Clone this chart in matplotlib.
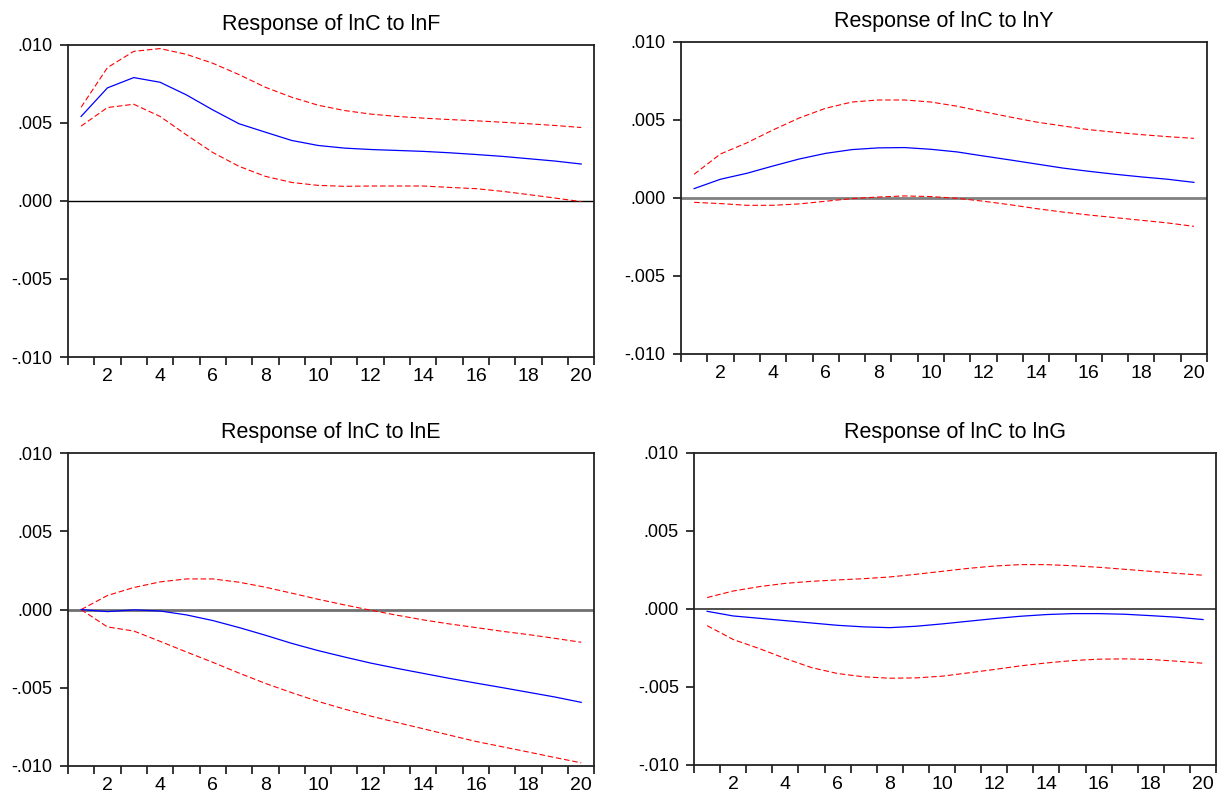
import numpy as np
import matplotlib.pyplot as plt
from matplotlib.ticker import FixedLocator, NullFormatter, FuncFormatter

plt.rcParams['font.family'] = ['Liberation Sans', 'DejaVu Sans']

periods = np.arange(1, 21)

# Response of lnC to lnF
f_mid = [5.42, 7.25, 7.91, 7.61, 6.80, 5.84, 4.95, 4.41, 3.88, 3.56,
         3.39, 3.30, 3.24, 3.18, 3.09, 2.98, 2.86, 2.71, 2.56, 2.37]
f_up = [6.01, 8.55, 9.59, 9.77, 9.40, 8.83, 8.10, 7.29, 6.65, 6.14,
        5.80, 5.57, 5.42, 5.31, 5.22, 5.14, 5.05, 4.95, 4.84, 4.71]
f_lo = [4.80, 5.99, 6.20, 5.42, 4.24, 3.11, 2.22, 1.58, 1.19, 1.00,
        0.94, 0.96, 0.96, 0.96, 0.87, 0.79, 0.62, 0.41, 0.19, -0.04]

# Response of lnC to lnY
y_mid = [0.60, 1.20, 1.58, 2.05, 2.50, 2.86, 3.10, 3.21, 3.23, 3.12,
         2.95, 2.69, 2.44, 2.18, 1.92, 1.71, 1.52, 1.35, 1.20, 1.00]
y_up = [1.52, 2.82, 3.53, 4.36, 5.13, 5.75, 6.15, 6.28, 6.28, 6.15,
        5.88, 5.53, 5.19, 4.87, 4.62, 4.38, 4.21, 4.06, 3.93, 3.82]
y_lo = [-0.28, -0.36, -0.47, -0.47, -0.38, -0.21, -0.04, 0.06, 0.13, 0.09,
        -0.02, -0.21, -0.43, -0.68, -0.90, -1.09, -1.26, -1.43, -1.60, -1.82]

# Response of lnC to lnE
e_mid = [0.00, -0.13, -0.02, -0.09, -0.34, -0.70, -1.15, -1.64, -2.16, -2.62,
         -3.03, -3.42, -3.76, -4.08, -4.40, -4.70, -4.99, -5.29, -5.59, -5.93]
e_up = [0.00, 0.90, 1.41, 1.77, 1.96, 1.96, 1.75, 1.43, 1.05, 0.66,
        0.30, -0.04, -0.36, -0.66, -0.92, -1.15, -1.39, -1.60, -1.84, -2.09]
e_lo = [0.00, -1.11, -1.37, -2.03, -2.71, -3.37, -4.06, -4.72, -5.31, -5.87,
        -6.36, -6.81, -7.22, -7.62, -8.03, -8.43, -8.77, -9.11, -9.46, -9.80]

# Response of lnC to lnG
g_mid = [-0.15, -0.45, -0.60, -0.75, -0.90, -1.05, -1.15, -1.20, -1.11, -0.96,
         -0.79, -0.62, -0.47, -0.36, -0.30, -0.30, -0.34, -0.43, -0.53, -0.68]
g_up = [0.73, 1.15, 1.43, 1.64, 1.77, 1.86, 1.94, 2.05, 2.22, 2.41,
        2.60, 2.75, 2.84, 2.84, 2.77, 2.67, 2.54, 2.41, 2.28, 2.16]
g_lo = [-1.07, -1.96, -2.54, -3.18, -3.76, -4.14, -4.35, -4.44, -4.42, -4.31,
        -4.10, -3.88, -3.65, -3.46, -3.31, -3.22, -3.20, -3.24, -3.35, -3.48]

titles = ['Response of lnC to lnF', 'Response of lnC to lnY',
          'Response of lnC to lnE', 'Response of lnC to lnG']
series = [(f_mid, f_up, f_lo), (y_mid, y_up, y_lo),
          (e_mid, e_up, e_lo), (g_mid, g_up, g_lo)]
zero_style = [('black', 1.0), ('#808080', 2.0), ('#707070', 2.0), ('#404040', 1.3)]

# axes rectangles [left, bottom, width, height] in figure fractions
rects = [[0.0557, 0.5515, 0.4315, 0.392],
         [0.5582, 0.5553, 0.4312, 0.392],
         [0.0557, 0.0377, 0.4315, 0.393],
         [0.5689, 0.0390, 0.4279, 0.392]]

fig = plt.figure(figsize=(12.2, 7.96), dpi=100)

for rect, title, (mid, up, lo), (zc, zw) in zip(rects, titles, series, zero_style):
    ax = fig.add_axes(rect)
    mid = np.array(mid) / 1000
    up = np.array(up) / 1000
    lo = np.array(lo) / 1000
    ax.axhline(0, color=zc, lw=zw, zorder=1)
    ax.plot(periods, mid, color='#0000ff', lw=0.9, zorder=3)
    ax.plot(periods, up, color='#ff0000', lw=0.8, dashes=(5, 2.5), zorder=2)
    ax.plot(periods, lo, color='#ff0000', lw=0.8, dashes=(5, 2.5), zorder=2)

    ax.set_xlim(0.5, 20.5)
    ax.set_ylim(-0.010, 0.010)
    ax.set_yticks([-0.010, -0.005, 0.0, 0.005, 0.010])
    ax.yaxis.set_major_formatter(FuncFormatter(
        lambda v, p: ('%.3f' % v).replace('0.', '.', 1) if abs(v) > 1e-12 else '.000'))

    # ticks at period boundaries, labels at even periods
    ax.xaxis.set_major_locator(FixedLocator(np.arange(0.5, 21, 1)))
    ax.xaxis.set_major_formatter(NullFormatter())
    ax.xaxis.set_minor_locator(FixedLocator(np.arange(2, 21, 2)))
    ax.set_xticklabels([str(v) for v in range(2, 21, 2)], minor=True)
    ax.tick_params(axis='x', which='minor', length=0, labelsize=14, pad=8)
    ax.tick_params(axis='x', which='major', length=6, width=1.1, direction='out')
    ax.tick_params(axis='y', length=6, width=1.1, direction='out', labelsize=13, pad=5)

    for s in ax.spines.values():
        s.set_linewidth(1.3)
        s.set_color('#222222')
    ax.set_title(title, fontsize=15.5, pad=11)

fig.savefig('out.png', dpi=100)
